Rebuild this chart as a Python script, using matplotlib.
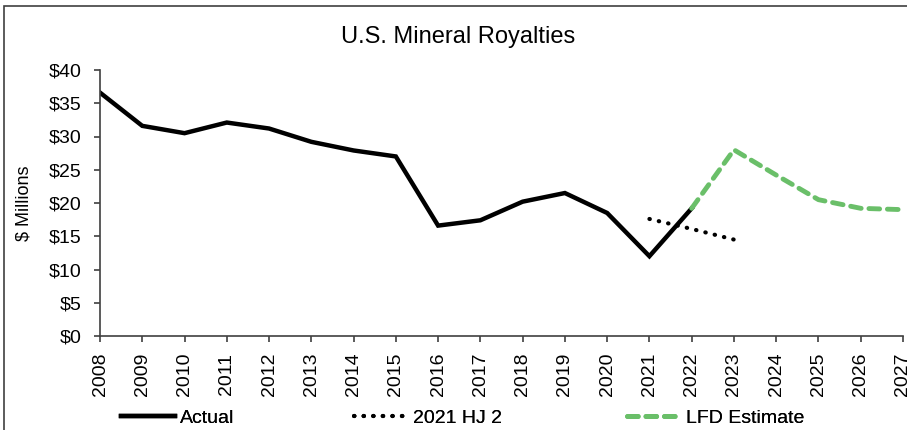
import matplotlib.pyplot as plt
from matplotlib.patches import Rectangle

plt.rcParams['font.family'] = ['Liberation Sans', 'DejaVu Sans']

# Data ($ millions)
years = list(range(2008, 2028))
actual_years = list(range(2008, 2023))
actual_vals = [36.6, 31.6, 30.5, 32.1, 31.2, 29.2, 27.9, 27.0, 16.6, 17.4,
               20.2, 21.5, 18.5, 12.0, 19.2]
hj2_years = [2021, 2022, 2023]
hj2_vals = [17.6, 16.1, 14.5]
lfd_years = [2022, 2023, 2024, 2025, 2026, 2027]
lfd_vals = [19.2, 28.0, 24.2, 20.5, 19.2, 19.0]

yticks = [0, 5, 10, 15, 20, 25, 30, 35, 40]
ytick_labels = [f'${v}' for v in yticks]

W, H = 907, 430
fig = plt.figure(figsize=(W / 100, H / 100), dpi=100)
ax = fig.add_axes([100 / W, 1 - 336 / H, (903 - 100) / W, (336 - 70) / H])

# chart border (cut off at right and bottom like the source)
fig.add_artist(Rectangle((4 / W, -0.1), 1.2, 1 - 6 / H + 0.1,
                         transform=fig.transFigure, fill=False,
                         edgecolor='#404040', linewidth=1.2))

l_actual, = ax.plot(actual_years, actual_vals, color='black', linewidth=3.2,
                    solid_joinstyle='miter', label='Actual')
l_hj2, = ax.plot(hj2_years, hj2_vals, color='black', linewidth=3.0,
                 linestyle=(0, (0.1, 2.2)), dash_capstyle='round',
                 label='2021 HJ 2')
l_lfd, = ax.plot(lfd_years, lfd_vals, color='#6abf69', linewidth=3.5,
                 linestyle=(0, (2.2, 1.6)), dash_capstyle='round',
                 label='LFD Estimate')

ax.set_xlim(2008, 2027)
ax.set_ylim(0, 40)
ax.set_yticks(yticks)
ax.set_yticklabels(ytick_labels)
ax.set_xticks(years)
ax.set_xticklabels([str(y) for y in years], rotation=90)
ax.tick_params(axis='both', labelsize=14, color='#404040', length=4,
               width=1.2)
ax.tick_params(axis='y', pad=9)
ax.tick_params(axis='x', pad=8)
for side in ['top', 'right']:
    ax.spines[side].set_visible(False)
for side in ['left', 'bottom']:
    ax.spines[side].set_color('#404040')
    ax.spines[side].set_linewidth(1.2)

ax.set_ylabel('$ Millions', fontsize=13, labelpad=12)
fig.text(458 / W, 1 - 37 / H, 'U.S. Mineral Royalties', fontsize=17,
         ha='center', va='center')

# three legend entries placed like the source
for handle, x0 in [(l_actual, 121), (l_hj2, 354), (l_lfd, 627)]:
    leg = fig.legend(handles=[handle], loc='center left',
                     bbox_to_anchor=(x0 / W, 1 - 418 / H), frameon=False,
                     fontsize=14, handlelength=2.8, handletextpad=0.25,
                     borderpad=0, borderaxespad=0)
    fig.add_artist(leg)

fig.savefig('out.png', dpi=100)
